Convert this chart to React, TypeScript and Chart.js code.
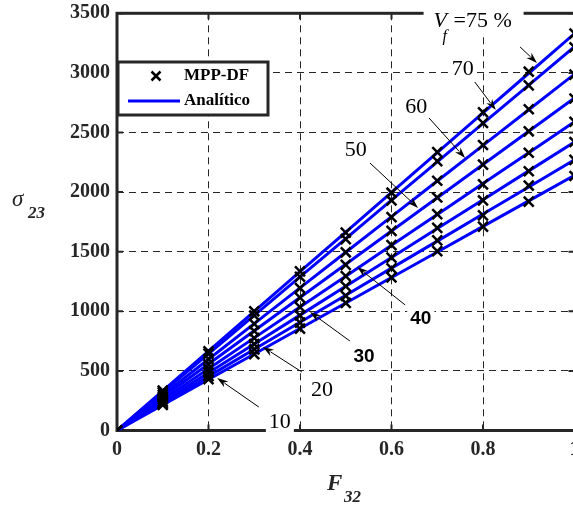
import React, { useEffect, useRef } from 'react';
import { Chart, registerables } from 'chart.js';

Chart.register(...registerables);

// Load factor F32 sampled at 0.1 steps
const F32 = [0, 0.1, 0.2, 0.3, 0.4, 0.5, 0.6, 0.7, 0.8, 0.9, 1.0];

// Fibre volume fractions (%) from the top curve to the bottom one
const VF = [75, 70, 60, 50, 40, 30, 20, 10];

// Analytical σ23 for each Vf
const ANALYTIC_75 = [0, 333, 666, 999, 1332, 1665, 1998, 2331, 2664, 2997, 3330];
const ANALYTIC_70 = [0, 322, 644, 966, 1288, 1610, 1932, 2254, 2576, 2898, 3220];
const ANALYTIC_60 = [0, 299, 598, 897, 1196, 1495, 1794, 2093, 2392, 2691, 2990];
const ANALYTIC_50 = [0, 279, 558, 837, 1116, 1395, 1674, 1953, 2232, 2511, 2790];
const ANALYTIC_40 = [0, 259, 518, 777, 1036, 1295, 1554, 1813, 2072, 2331, 2590];
const ANALYTIC_30 = [0, 242, 484, 726, 968, 1210, 1452, 1694, 1936, 2178, 2420];
const ANALYTIC_20 = [0, 227, 454, 681, 908, 1135, 1362, 1589, 1816, 2043, 2270];
const ANALYTIC_10 = [0, 214, 428, 642, 856, 1070, 1284, 1498, 1712, 1926, 2140];

// MPP-DF results for each Vf
const MPP_75 = [0, 335, 665, 1000, 1335, 1660, 1995, 2335, 2670, 3010, 3330];
const MPP_70 = [0, 320, 645, 965, 1290, 1605, 1930, 2260, 2580, 2895, 3215];
const MPP_60 = [0, 300, 600, 895, 1195, 1495, 1790, 2095, 2395, 2695, 2985];
const MPP_50 = [0, 280, 555, 835, 1115, 1390, 1675, 1955, 2230, 2510, 2785];
const MPP_40 = [0, 260, 515, 775, 1035, 1295, 1555, 1815, 2065, 2330, 2590];
const MPP_30 = [0, 240, 485, 725, 965, 1210, 1450, 1700, 1930, 2175, 2420];
const MPP_20 = [0, 225, 455, 680, 905, 1130, 1360, 1595, 1805, 2055, 2270];
const MPP_10 = [0, 215, 430, 640, 855, 1070, 1285, 1505, 1710, 1920, 2135];

const ANALYTIC = [ANALYTIC_75, ANALYTIC_70, ANALYTIC_60, ANALYTIC_50, ANALYTIC_40, ANALYTIC_30, ANALYTIC_20, ANALYTIC_10];
const MPP = [MPP_75, MPP_70, MPP_60, MPP_50, MPP_40, MPP_30, MPP_20, MPP_10];

// Axis tick labels
const X_TICKS = ['0', '0.2', '0.4', '0.6', '0.8', '1'];
const Y_TICKS = ['0', '500', '1000', '1500', '2000', '2500', '3000', '3500'];

// Curve labels: text position and arrow (tail -> head), all in data units
const CURVE_LABELS = [
  { text: '70', tx: 0.756, ty: 3041, x1: 0.782, y1: 2924, x2: 0.828, y2: 2689, sans: false },
  { text: '60', tx: 0.654, ty: 2723, x1: 0.682, y1: 2622, x2: 0.761, y2: 2286, sans: false },
  { text: '50', tx: 0.522, ty: 2362, x1: 0.553, y1: 2244, x2: 0.658, y2: 1867, sans: false },
  { text: '40', tx: 0.664, ty: 944, x1: 0.630, y1: 1053, x2: 0.525, y2: 1372, sans: true },
  { text: '30', tx: 0.540, ty: 625, x1: 0.509, y1: 751, x2: 0.422, y2: 994, sans: true },
  { text: '20', tx: 0.448, ty: 348, x1: 0.404, y1: 491, x2: 0.319, y2: 701, sans: false },
  { text: '10', tx: 0.356, ty: 80, x1: 0.310, y1: 197, x2: 0.219, y2: 440, sans: false },
];
const TOP_LABEL = { tx: 0.692, ty: 3444, x1: 0.881, y1: 3218, x2: 0.918, y2: 3084 };

const SERIF = "'Liberation Serif', 'Times New Roman', serif";
const SANS = "'Liberation Sans', Arial, sans-serif";
const INK = '#262626';
const BLUE = '#0000ff';

function drawArrow(ctx: CanvasRenderingContext2D, x1: number, y1: number, x2: number, y2: number) {
  const ang = Math.atan2(y2 - y1, x2 - x1);
  const len = 11;
  const half = 3.6;
  ctx.save();
  ctx.strokeStyle = '#000';
  ctx.fillStyle = '#000';
  ctx.lineWidth = 1;
  ctx.beginPath();
  ctx.moveTo(x1, y1);
  ctx.lineTo(x2 - Math.cos(ang) * len * 0.8, y2 - Math.sin(ang) * len * 0.8);
  ctx.stroke();
  ctx.beginPath();
  ctx.moveTo(x2, y2);
  ctx.lineTo(x2 - Math.cos(ang) * len - Math.sin(ang) * half, y2 - Math.sin(ang) * len + Math.cos(ang) * half);
  ctx.lineTo(x2 - Math.cos(ang) * len * 0.7, y2 - Math.sin(ang) * len * 0.7);
  ctx.lineTo(x2 - Math.cos(ang) * len + Math.sin(ang) * half, y2 - Math.sin(ang) * len - Math.cos(ang) * half);
  ctx.closePath();
  ctx.fill();
  ctx.restore();
}

const overlay = {
  id: 'overlay',
  beforeDatasetsDraw(chart: any) {
    const { ctx, chartArea: a, scales } = chart;
    const xs = scales.x;
    const ys = scales.y;
    ctx.save();
    // inward tick marks on all four sides
    ctx.strokeStyle = INK;
    ctx.lineWidth = 2;
    const tl = 6;
    xs.ticks.forEach((t: any) => {
      const px = xs.getPixelForValue(t.value);
      ctx.beginPath();
      ctx.moveTo(px, a.bottom);
      ctx.lineTo(px, a.bottom - tl);
      ctx.moveTo(px, a.top);
      ctx.lineTo(px, a.top + tl);
      ctx.stroke();
    });
    ys.ticks.forEach((t: any) => {
      const py = ys.getPixelForValue(t.value);
      ctx.beginPath();
      ctx.moveTo(a.left, py);
      ctx.lineTo(a.left + tl, py);
      ctx.moveTo(a.right, py);
      ctx.lineTo(a.right - tl, py);
      ctx.stroke();
    });
    // axes box
    ctx.lineWidth = 3;
    ctx.strokeRect(a.left, a.top, a.right - a.left, a.bottom - a.top);
    ctx.restore();
  },
  afterDraw(chart: any) {
    const { ctx, scales } = chart;
    const xs = scales.x;
    const ys = scales.y;
    const X = (v: number) => xs.getPixelForValue(v);
    const Y = (v: number) => ys.getPixelForValue(v);
    ctx.save();

    // legend
    const lx = 118, ly = 62, lw = 150, lh = 53;
    ctx.fillStyle = '#fff';
    ctx.fillRect(lx, ly, lw, lh);
    ctx.strokeStyle = INK;
    ctx.lineWidth = 3;
    ctx.strokeRect(lx, ly, lw, lh);
    // marker sample
    ctx.strokeStyle = '#000';
    ctx.lineWidth = 2.5;
    const mx = 156, my = 76, mr = 4.5;
    ctx.beginPath();
    ctx.moveTo(mx - mr, my - mr);
    ctx.lineTo(mx + mr, my + mr);
    ctx.moveTo(mx + mr, my - mr);
    ctx.lineTo(mx - mr, my + mr);
    ctx.stroke();
    // line sample
    ctx.strokeStyle = BLUE;
    ctx.lineWidth = 3;
    ctx.beginPath();
    ctx.moveTo(128, 101);
    ctx.lineTo(180, 101);
    ctx.stroke();
    ctx.fillStyle = '#000';
    ctx.font = `bold 17px ${SERIF}`;
    ctx.textAlign = 'left';
    ctx.textBaseline = 'middle';
    ctx.fillText('MPP-DF', 184, 76);
    ctx.fillText('Analítico', 184, 101);

    // curve labels with arrows
    CURVE_LABELS.forEach((l) => {
      const cx = X(l.tx), cy = Y(l.ty);
      ctx.font = l.sans ? `bold 19px ${SANS}` : `22px ${SERIF}`;
      const w = ctx.measureText(l.text).width;
      ctx.fillStyle = '#fff';
      ctx.fillRect(cx - w / 2 - 3, cy - 11, w + 6, 22);
      ctx.fillStyle = '#000';
      ctx.textAlign = 'center';
      ctx.textBaseline = 'middle';
      ctx.fillText(l.text, cx, cy + 1);
      drawArrow(ctx, X(l.x1), Y(l.y1), X(l.x2), Y(l.y2));
    });

    // Vf = 75 % label
    {
      const lx0 = X(TOP_LABEL.tx);
      const cy = Y(TOP_LABEL.ty);
      ctx.fillStyle = '#fff';
      ctx.fillRect(lx0 - 10, cy - 15, 100, 30);
      ctx.fillStyle = '#000';
      ctx.textAlign = 'left';
      ctx.textBaseline = 'alphabetic';
      ctx.font = `italic 22px ${SERIF}`;
      ctx.fillText('V', lx0, cy + 7);
      ctx.font = `italic 16px ${SERIF}`;
      ctx.fillText('f', lx0 + 9, cy + 21);
      ctx.font = `22px ${SERIF}`;
      ctx.fillText('=75 %', lx0 + 20, cy + 7);
      drawArrow(ctx, X(TOP_LABEL.x1), Y(TOP_LABEL.y1), X(TOP_LABEL.x2), Y(TOP_LABEL.y2));
    }

    // axis titles
    ctx.fillStyle = INK;
    ctx.textAlign = 'left';
    ctx.textBaseline = 'alphabetic';
    ctx.font = `italic 23px ${SERIF}`;
    ctx.fillText('σ', 12, 206);
    ctx.font = `bold italic 17px ${SERIF}`;
    ctx.fillText('23', 28, 218);

    ctx.font = `bold italic 23px ${SERIF}`;
    ctx.fillText('F', 327, 490);
    ctx.font = `bold italic 17px ${SERIF}`;
    ctx.fillText('32', 344, 502);

    ctx.restore();
  },
};

export default function App() {
  const canvasRef = useRef<HTMLCanvasElement | null>(null);

  useEffect(() => {
    const canvas = canvasRef.current;
    if (!canvas) return;

    const markerSets = VF.map((vf, i) => ({
      label: `MPP-DF ${vf}%`,
      data: F32.map((x, j) => ({ x, y: MPP[i][j] })),
      showLine: false,
      pointStyle: 'crossRot' as const,
      pointRadius: 7,
      pointBorderColor: '#000',
      pointBackgroundColor: '#000',
      pointBorderWidth: 2.5,
      order: 0,
    }));
    const lineSets = VF.map((vf, i) => ({
      label: `Analítico ${vf}%`,
      data: F32.map((x, j) => ({ x, y: ANALYTIC[i][j] })),
      showLine: true,
      borderColor: BLUE,
      borderWidth: 3,
      pointRadius: 0,
      order: 1,
    }));

    const tickFont = { family: SERIF, weight: 'bold' as const, size: 20 };

    const chart = new Chart(canvas, {
      type: 'scatter',
      data: { datasets: [...markerSets, ...lineSets] as any },
      options: {
        responsive: false,
        animation: false,
        devicePixelRatio: 1,
        layout: { padding: { top: 13.3, right: 45.5, left: 0, bottom: 0 } },
        plugins: { legend: { display: false }, tooltip: { enabled: false } },
        scales: {
          x: {
            type: 'linear',
            min: 0,
            max: 1,
            ticks: {
              stepSize: 0.2,
              color: INK,
              font: tickFont,
              padding: 7,
              maxRotation: 0,
              callback: (_v: any, i: number) => X_TICKS[i],
            },
            grid: { color: INK, lineWidth: 1, drawTicks: false },
            border: { display: false, dash: [7, 5] },
            afterFit: (s: any) => {
              s.height = 75.5;
              s.paddingLeft = 0;
              s.paddingRight = 0;
            },
          },
          y: {
            type: 'linear',
            min: 0,
            max: 3500,
            ticks: {
              stepSize: 500,
              color: INK,
              font: tickFont,
              padding: 7,
              callback: (_v: any, i: number) => Y_TICKS[i],
            },
            grid: { color: INK, lineWidth: 1, drawTicks: false },
            border: { display: false, dash: [7, 5] },
            afterFit: (s: any) => {
              s.width = 117;
              s.paddingTop = 0;
              s.paddingBottom = 0;
            },
          },
        },
      },
      plugins: [overlay],
    });

    return () => chart.destroy();
  }, []);

  return (
    <div style={{ position: 'fixed', left: 0, top: 0, width: 573, height: 506, overflow: 'hidden', background: '#fff' }}>
      <canvas ref={canvasRef} width={620} height={506} style={{ display: 'block' }} />
    </div>
  );
}
